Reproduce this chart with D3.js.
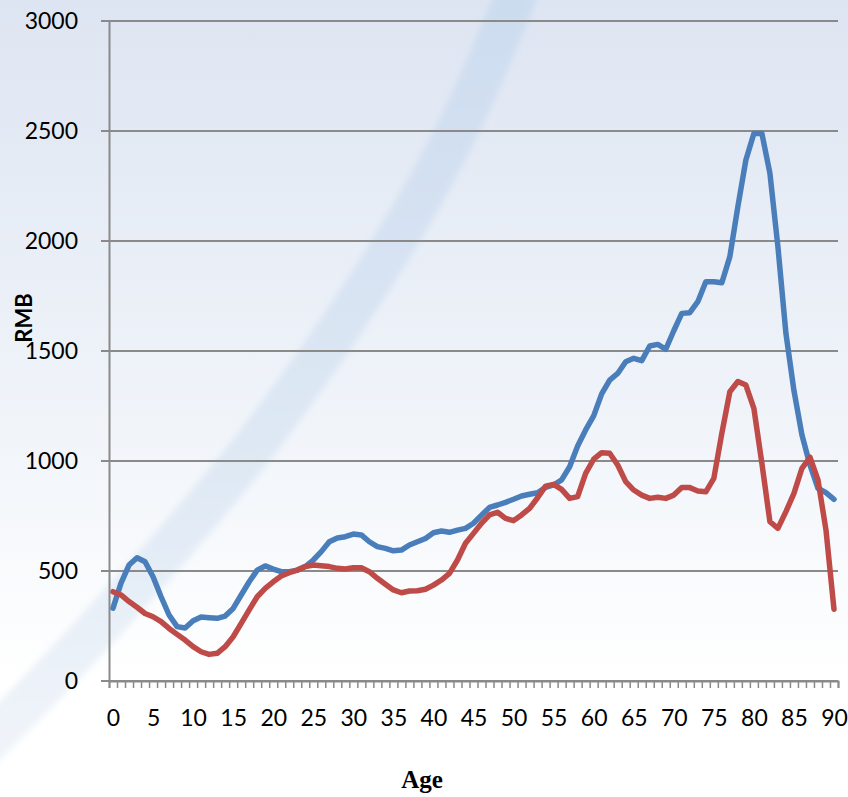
<!DOCTYPE html>
<html lang="en">
  <head>
    <meta charset="UTF-8" />
    <title>RMB by Age</title>
    <script src="https://cdn.jsdelivr.net/npm/d3@7"></script>
    <style>
      body { margin: 0; background: #fff; }
      #container { width: 848px; height: 797px; }
    </style>
  </head>
  <body>
    <div id="container"></div>
    <script>
      // data, one value per year of age
      const ages = d3.range(0, 91)
      const blueValues = [
        331, 445, 527, 560, 542, 474, 383, 300, 247, 241,
        274, 291, 288, 285, 295, 330, 391, 451, 504, 523,
        509, 497, 497, 504, 520, 550, 588, 633, 650, 656,
        668, 664, 633, 611, 603, 592, 595, 618, 633, 648,
        674, 682, 676, 686, 694, 717, 754, 789, 800, 812,
        826, 841, 849, 856, 880, 891, 914, 974, 1068, 1141,
        1205, 1305, 1368, 1398, 1451, 1467, 1456, 1523, 1530, 1508,
        1592, 1671, 1674, 1724, 1815, 1815, 1810, 1929, 2156, 2368,
        2489, 2489, 2308, 1974, 1580, 1320, 1118, 982, 876, 856, 826
      ]
      const redValues = [
        406, 391, 361, 335, 307, 292, 270, 239, 212, 186,
        156, 133, 121, 126, 156, 201, 262, 323, 383, 421,
        451, 477, 492, 504, 520, 527, 524, 520, 512, 509,
        515, 515, 497, 467, 440, 414, 401, 409, 410, 417,
        436, 459, 489, 550, 626, 671, 717, 755, 767, 739,
        729, 755, 785, 833, 886, 894, 871, 830, 838, 944,
        1008, 1038, 1035, 982, 906, 868, 845, 830, 835, 830,
        845, 880, 879, 864, 860, 921, 1126, 1315, 1361, 1345,
        1239, 989, 724, 694, 770, 853, 967, 1017, 914, 686, 326
      ]
      const yTicks = [0, 500, 1000, 1500, 2000, 2500, 3000]
      const xTicks = d3.range(0, 91, 5)

      const width = 848
      const height = 797
      const marginLeft = 109
      const marginRight = 10
      const marginTop = 21
      const marginBottom = 116

      const svg = d3.select('#container').append('svg')
        .attr('width', width)
        .attr('height', height)

      // slide background
      const defs = svg.append('defs')
      const bg = defs.append('linearGradient')
        .attr('id', 'bg').attr('x1', 0).attr('y1', 0).attr('x2', 0).attr('y2', 1)
      bg.append('stop').attr('offset', '0%').attr('stop-color', '#dee5f2')
      bg.append('stop').attr('offset', '55%').attr('stop-color', '#f1f5fa')
      bg.append('stop').attr('offset', '85%').attr('stop-color', '#ffffff')
      const band = defs.append('linearGradient')
        .attr('id', 'band').attr('gradientUnits', 'userSpaceOnUse')
        .attr('x1', 0).attr('y1', 0).attr('x2', 0).attr('y2', 797)
      band.append('stop').attr('offset', '0%').attr('stop-color', '#c7d9ef')
      band.append('stop').attr('offset', '60%').attr('stop-color', '#d9e5f3')
      band.append('stop').attr('offset', '100%').attr('stop-color', '#eef3f9')
      defs.append('filter').attr('id', 'soft')
        .append('feGaussianBlur').attr('stdDeviation', 3)

      svg.append('rect')
        .attr('width', width).attr('height', height)
        .attr('fill', 'url(#bg)')

      const bandPts = [[528, -40], [515, 0], [460, 130], [395, 245], [325, 351], [245, 461], [150, 571], [50, 681], [-30, 760], [-40, 770]]
      svg.append('path')
        .attr('d', d3.line().curve(d3.curveBasis)(bandPts))
        .attr('fill', 'none')
        .attr('stroke', 'url(#band)')
        .attr('stroke-width', 42)
        .attr('opacity', 0.75)
        .attr('filter', 'url(#soft)')

      // scales
      const x = d3.scalePoint()
        .domain(ages)
        .range([marginLeft, width - marginRight])
        .padding(0.5)
      const y = d3.scaleLinear()
        .domain([0, 3000])
        .range([height - marginBottom, marginTop])

      // gridlines
      svg.append('g')
        .selectAll('line')
        .data(yTicks)
        .join('line')
        .attr('x1', marginLeft - 8)
        .attr('x2', width - marginRight)
        .attr('y1', d => y(d))
        .attr('y2', d => y(d))
        .attr('stroke', '#8a8a8a')
        .attr('stroke-width', 2)

      // y axis
      svg.append('g')
        .attr('transform', `translate(${marginLeft}, 0)`)
        .call(d3.axisLeft(y).tickValues(yTicks).tickFormat(d3.format('d')).tickSize(0).tickPadding(31))
        .call(g => g.select('.domain').attr('stroke', '#8a8a8a').attr('stroke-width', 2))
        .call(g => g.selectAll('text')
          .attr('font-family', 'Lato, sans-serif')
          .attr('font-size', 23)
          .attr('fill', '#000'))

      // x axis with a tick at every category edge
      const edge = d3.scaleLinear()
        .domain([-0.5, 90.5])
        .range([marginLeft, width - marginRight])
      svg.append('g')
        .attr('transform', `translate(0, ${y(0)})`)
        .call(d3.axisBottom(edge).tickValues(d3.range(-0.5, 91, 1)).tickSize(7).tickFormat(''))
        .call(g => g.select('.domain').attr('stroke', '#8a8a8a').attr('stroke-width', 2))
        .call(g => g.selectAll('.tick line').attr('stroke', '#8a8a8a').attr('stroke-width', 1.5))

      svg.append('g')
        .attr('transform', `translate(0, ${y(0)})`)
        .call(d3.axisBottom(x).tickValues(xTicks).tickSize(0).tickPadding(29))
        .call(g => g.select('.domain').remove())
        .call(g => g.selectAll('text')
          .attr('font-family', 'Lato, sans-serif')
          .attr('font-size', 23)
          .attr('fill', '#000'))

      // lines
      const line = d3.line()
        .x((d, i) => x(ages[i]))
        .y(d => y(d))
      svg.append('path')
        .datum(blueValues)
        .attr('d', line)
        .attr('fill', 'none')
        .attr('stroke', '#4a7ebb')
        .attr('stroke-width', 5.5)
        .attr('stroke-linejoin', 'round')
        .attr('stroke-linecap', 'round')
      svg.append('path')
        .datum(redValues)
        .attr('d', line)
        .attr('fill', 'none')
        .attr('stroke', '#be4b48')
        .attr('stroke-width', 5.5)
        .attr('stroke-linejoin', 'round')
        .attr('stroke-linecap', 'round')

      // axis titles
      svg.append('text')
        .attr('transform', 'translate(32, 318) rotate(-90)')
        .attr('text-anchor', 'middle')
        .attr('font-family', 'Lato, sans-serif')
        .attr('font-weight', 'bold')
        .attr('font-size', 22)
        .text('RMB')
      svg.append('text')
        .attr('x', 422)
        .attr('y', 788)
        .attr('text-anchor', 'middle')
        .attr('font-family', '"Liberation Serif", "Times New Roman", serif')
        .attr('font-weight', 'bold')
        .attr('font-size', 25)
        .text('Age')
    </script>
  </body>
</html>
